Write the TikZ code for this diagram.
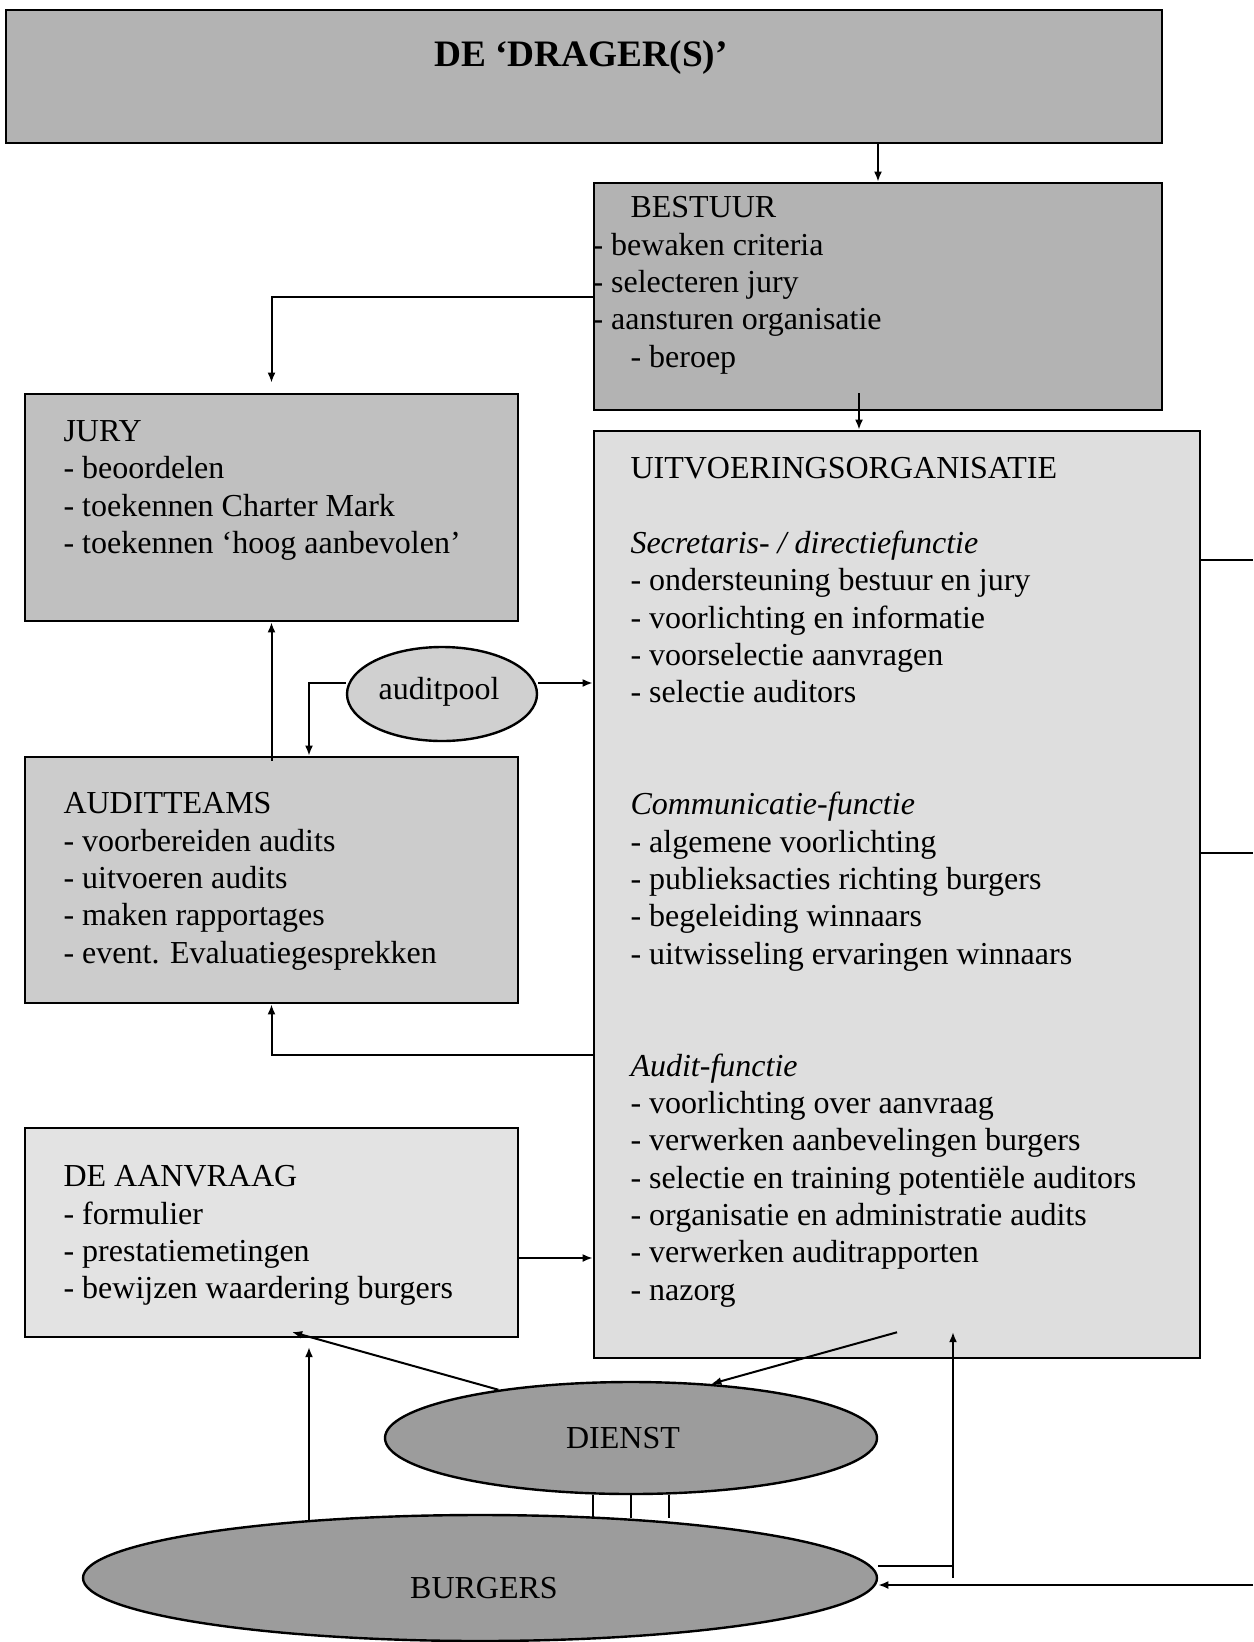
\documentclass[tikz,border=0pt]{standalone}
\usepackage{fontspec}
\setmainfont{Liberation Serif}
\usetikzlibrary{positioning, shapes.geometric, fit, arrows.meta}
\newdimen\pxu
\pxu=0.375pt
\definecolor{dragergray}{HTML}{B3B3B3}
\definecolor{jurygray}{HTML}{C0C0C0}
\definecolor{teamgray}{HTML}{CCCCCC}
\definecolor{uitvgray}{HTML}{DEDEDE}
\definecolor{aanvrgray}{HTML}{E3E3E3}
\definecolor{poolgray}{HTML}{D0D0D0}
\definecolor{dienstgray}{HTML}{9C9C9C}
\tikzset{
    block/.style={
        draw, line width=0.95pt,
        inner sep=0pt
    },
    txt/.style={
        inner sep=0pt, align=left, anchor=north west,
        font=\fontsize{12}{14}\selectfont
    },
    oval/.style={
        draw, ellipse, line width=0.9pt, inner sep=0pt,
        font=\fontsize{12}{14}\selectfont
    },
    line/.style={-{Latex[length=3.8pt,width=3pt]}, line width=0.75pt}
}

\begin{document}
\begin{tikzpicture}[x=\pxu, y=-\pxu]
\useasboundingbox (0,0) rectangle (1253,1642);

% blokken
\node[block, line width=1.1pt, fill=dragergray, fit={(6,10) (1162,143)}] (drager) {};
\node[font=\fontsize{14}{16}\selectfont\bfseries, inner sep=0pt, anchor=base] (dragertxt) at (581,66) {DE ‘DRAGER(S)’};

\node[block, fill=dragergray, fit={(594,183) (1162,410)}] (bestuur) {};
\node[txt] (bestuurtxt) at (592,196) {\hspace*{38\pxu}BESTUUR\\- bewaken criteria\\- selecteren jury\\- aansturen organisatie\\\hspace*{38\pxu}- beroep};

\node[block, fill=jurygray, fit={(25,394) (518,621)}] (jury) {};
\node[txt] (jurytxt) at (63,420) {JURY\\- beoordelen\\- toekennen Charter Mark\\- toekennen ‘hoog aanbevolen’};

\node[block, fill=teamgray, fit={(25,757) (518,1003)}] (teams) {};
\node[txt] (teamstxt) at (63,792) {AUDITTEAMS\\- voorbereiden audits\\- uitvoeren audits\\- maken rapportages\\- event. Evaluatiegesprekken};

\node[block, fill=aanvrgray, fit={(25,1128) (518,1337)}] (aanvraag) {};
\node[txt] (aanvraagtxt) at (63,1165) {DE AANVRAAG\\- formulier\\- prestatiemetingen\\- bewijzen waardering burgers};

\node[block, fill=uitvgray, fit={(594,431) (1200,1358)}] (uitv) {};
\node[txt] (uitvtxt) at (630,457) {UITVOERINGSORGANISATIE\\[14pt]
    \textit{Secretaris- / directiefunctie}\\
    - ondersteuning bestuur en jury\\
    - voorlichting en informatie\\
    - voorselectie aanvragen\\
    - selectie auditors\\[28pt]
    \textit{Communicatie-functie}\\
    - algemene voorlichting\\
    - publieksacties richting burgers\\
    - begeleiding winnaars\\
    - uitwisseling ervaringen winnaars\\[28pt]
    \textit{Audit-functie}\\
    - voorlichting over aanvraag\\
    - verwerken aanbevelingen burgers\\
    - selectie en training potentiële auditors\\
    - organisatie en administratie audits\\
    - verwerken auditrapporten\\
    - nazorg};

\node[oval, fill=poolgray, minimum width=190\pxu, minimum height=94\pxu] (pool) at (442,694) {};
\node[txt, anchor=center] (pooltxt) at (439,692) {auditpool};
\node[oval, fill=dienstgray, minimum width=492\pxu, minimum height=112\pxu] (dienst) at (631,1438) {};
\node[txt, anchor=center] (diensttxt) at (623,1438) {DIENST};
\node[oval, fill=dienstgray, minimum width=794\pxu, minimum height=126\pxu] (burgers) at (480,1578) {};
\node[txt, anchor=center] (burgerstxt) at (484,1588) {BURGERS};

% hulppunten
\coordinate (bu) at (859,393);
\coordinate (pl) at (309,683);
\coordinate (ut) at (594,1055);
\coordinate (ar) at (518,1258);
\coordinate (re1) at (1253,560);
\coordinate (re2) at (1253,853);
\coordinate (da) at (292,1332);
\coordinate (ba) at (309,1347);
\coordinate (bh) at (953,1566);
\coordinate (bv) at (953,1332);
\coordinate (br) at (1253,1585);

% verbindingen
\draw[line] (drager.south -| bestuur.north) -- (bestuur.north);
\draw[line] (bu) -- (bu |- uitv.north);
\draw[line, shorten >=10\pxu] (bestuur.west) -| (jury.north);
\draw[line] ([yshift=-5\pxu]teams.north) -- (jury.south);
\draw[line] (pl -| pool.west) -- (pl) -- (pl |- teams.north);
\draw[line] (pl -| pool.east) -- (pl -| uitv.west);
\draw[line] (ut) -| (teams.south);
\draw[line] (ar) -- (ar -| uitv.west);
\draw (re1 -| uitv.east) -- (re1);
\draw (re2 -| uitv.east) -- (re2);
\draw[line] (dienst.160) -- (da);
\draw[line] ([yshift=27\pxu]uitv.south) -- (dienst.34);
\draw[line] (ba |- burgers.162) -- (ba);
\foreach \dx in {-38,0,38}
    \draw ([xshift=\dx\pxu]dienst.south) -- +(0,23);
\draw (bh -| burgers.east) -- (bh);
\draw[line] (bv |- burgers.east) -- (bv);
\draw[line] (br) -- (br -| burgers.east);

\end{tikzpicture}
\end{document}
